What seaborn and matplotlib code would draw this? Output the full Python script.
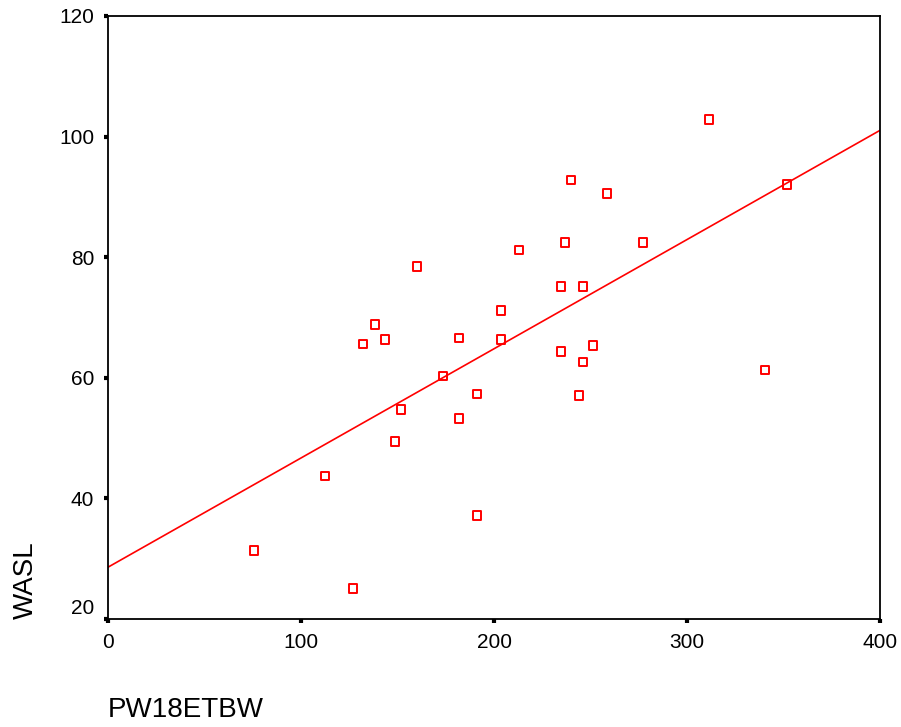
import matplotlib
matplotlib.use("Agg")
import matplotlib.pyplot as plt
import matplotlib.transforms as mtransforms
import seaborn as sns
import pandas as pd

# values
pw18etbw = [75.6, 126.9, 112.4, 132.1, 138.3, 143.5, 148.7, 151.8, 160.1, 173.6,
            181.9, 181.9, 191.2, 191.2, 203.6, 203.6, 213.0, 234.7, 234.7, 236.8,
            239.9, 246.1, 246.1, 244.0, 251.3, 258.5, 277.2, 311.4, 340.4, 351.8]
wasl = [31.4, 25.1, 43.7, 65.6, 68.9, 66.3, 49.4, 54.7, 78.5, 60.3,
        66.6, 53.3, 57.3, 37.1, 71.2, 66.3, 81.2, 75.2, 64.3, 82.5,
        92.8, 75.2, 62.6, 57.0, 65.3, 90.5, 82.5, 102.8, 61.3, 92.1]
x_ticks = [0, 100, 200, 300, 400]
y_ticks = [20, 40, 60, 80, 100, 120]

df = pd.DataFrame({"PW18ETBW": pw18etbw, "WASL": wasl})

sns.set_style("ticks")
plt.rcParams["font.family"] = ["Liberation Sans", "DejaVu Sans"]
plt.rcParams["text.color"] = "black"
plt.rcParams["axes.labelcolor"] = "black"
plt.rcParams["xtick.color"] = "black"
plt.rcParams["ytick.color"] = "black"

fig = plt.figure(figsize=(9.01, 7.27), dpi=100)
ax = fig.add_axes([0.1199, 0.1486, 0.8568, 0.8294])
ax.set_xlim(0, 400)
ax.set_ylim(20, 120)

sns.regplot(data=df, x="PW18ETBW", y="WASL", ax=ax, ci=None, truncate=False,
            marker="s",
            scatter_kws={"s": 40, "facecolors": "none", "edgecolors": "#ff0000",
                         "linewidths": 1.4, "alpha": 1},
            line_kws={"color": "#ff0000", "lw": 1.2})

ax.set_xlim(0, 400)
ax.set_ylim(20, 120)
ax.set_xticks(x_ticks)
ax.set_yticks(y_ticks)
ax.tick_params(direction="out", length=3, width=3, color="black",
               labelsize=15, labelcolor="black", pad=7)
for sp in ax.spines.values():
    sp.set_linewidth(1.3)
    sp.set_color("black")

# SPSS nudges the lowest y label upward
lbl = ax.get_yticklabels()[0]
lbl.set_transform(lbl.get_transform() + mtransforms.ScaledTranslation(0, 12 / 100, fig.dpi_scale_trans))

ax.set_xlabel("PW18ETBW", fontsize=20, ha="left", va="center")
ax.set_ylabel("WASL", fontsize=20, ha="left", va="center")
ax.xaxis.set_label_coords(0, -0.151)
ax.yaxis.set_label_coords(-0.107, 0)

fig.savefig("out.png", dpi=100)
